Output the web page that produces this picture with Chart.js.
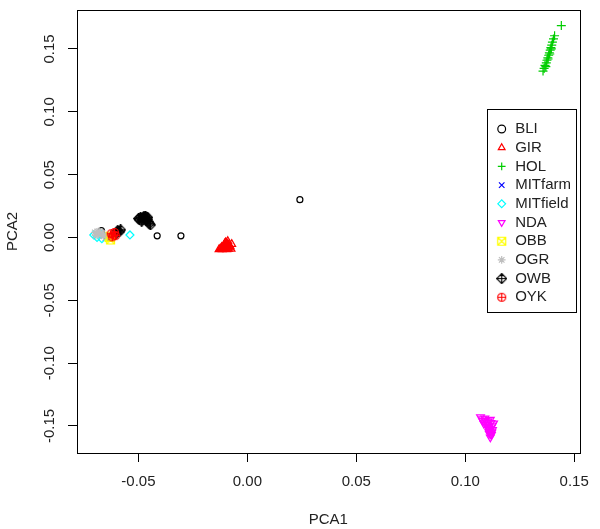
<!DOCTYPE html>
<html>
<head>
<meta charset="utf-8">
<script src="https://cdn.jsdelivr.net/npm/chart.js@4.4.1/dist/chart.umd.min.js"></script>
<style>
  body { margin: 0; background: #fff; }
  #wrap { width: 600px; height: 529px; }
</style>
</head>
<body>
<div id="wrap"><canvas id="canvas1" width="600" height="529"></canvas></div>
<script>
const canvas1 = document.getElementById('canvas1');

// groups, in legend order
const groups = ['BLI', 'GIR', 'HOL', 'MITfarm', 'MITfield', 'NDA', 'OBB', 'OGR', 'OWB', 'OYK'];

// [PCA1, PCA2] per animal
const BLI = [[0.0241, 0.0301], [-0.0414, 0.0013], [-0.0305, 0.0013], [-0.0670, 0.0055]];
const GIR = [[-0.0130, -0.0095], [-0.0120, -0.0085], [-0.0110, -0.0075], [-0.0100, -0.0060],
  [-0.0095, -0.0045], [-0.0090, -0.0030], [-0.0105, -0.0090], [-0.0090, -0.0080],
  [-0.0080, -0.0070], [-0.0085, -0.0055], [-0.0115, -0.0095], [-0.0095, -0.0095],
  [-0.0075, -0.0090], [-0.0100, -0.0040], [-0.0072, -0.0053], [-0.0125, -0.0092],
  [-0.0112, -0.0082], [-0.0102, -0.0072], [-0.0092, -0.0062], [-0.0108, -0.0065],
  [-0.0098, -0.0085], [-0.0088, -0.0090], [-0.0082, -0.0080], [-0.0118, -0.0078],
  [-0.0094, -0.0052], [-0.0104, -0.0050]];
const HOL = [[0.1357, 0.1324], [0.1362, 0.1345], [0.1366, 0.1370], [0.1372, 0.1390],
  [0.1375, 0.1410], [0.1379, 0.1430], [0.1383, 0.1450], [0.1386, 0.1470],
  [0.1390, 0.1490], [0.1393, 0.1510], [0.1397, 0.1530], [0.1400, 0.1555],
  [0.1405, 0.1580], [0.1410, 0.1605], [0.1441, 0.1686], [0.1370, 0.1360],
  [0.1380, 0.1420], [0.1388, 0.1460], [0.1395, 0.1500]];
const MITfarm = [[-0.0660, 0.0010], [-0.0652, -0.0005], [-0.0645, 0.0015], [-0.0640, -0.0015], [-0.0655, 0.0020]];
const MITfield = [[-0.0705, 0.0020], [-0.0690, 0.0000], [-0.0675, 0.0030], [-0.0668, -0.0010], [-0.0539, 0.0020]];
const NDA = [[0.1070, -0.1430], [0.1090, -0.1440], [0.1080, -0.1460], [0.1100, -0.1470],
  [0.1115, -0.1450], [0.1095, -0.1490], [0.1110, -0.1500], [0.1105, -0.1520],
  [0.1120, -0.1510], [0.1115, -0.1540], [0.1125, -0.1530], [0.1110, -0.1560],
  [0.1120, -0.1570], [0.1115, -0.1590], [0.1130, -0.1480], [0.1085, -0.1480],
  [0.1078, -0.1445], [0.1092, -0.1458], [0.1105, -0.1462], [0.1118, -0.1475],
  [0.1102, -0.1505], [0.1112, -0.1525], [0.1122, -0.1550], [0.1108, -0.1545],
  [0.1117, -0.1565], [0.1124, -0.1495]];
const OBB = [[-0.0635, 0.0000], [-0.0628, -0.0020], [-0.0632, 0.0010]];
const OGR = [[-0.0700, 0.0040], [-0.0690, 0.0030], [-0.0680, 0.0050], [-0.0672, 0.0020],
  [-0.0665, 0.0035], [-0.0695, 0.0015], [-0.0685, 0.0045], [-0.0660, 0.0010]];
const OWB = [[-0.0595, 0.0055], [-0.0588, 0.0045], [-0.0600, 0.0035], [-0.0582, 0.0060],
  [-0.0500, 0.0150], [-0.0490, 0.0160], [-0.0480, 0.0140], [-0.0470, 0.0150],
  [-0.0475, 0.0165], [-0.0460, 0.0145], [-0.0485, 0.0130], [-0.0465, 0.0135],
  [-0.0455, 0.0125], [-0.0450, 0.0110], [-0.0495, 0.0140], [-0.0478, 0.0155],
  [-0.0468, 0.0170], [-0.0458, 0.0160], [-0.0445, 0.0100]];
const OYK = [[-0.0625, 0.0030], [-0.0615, 0.0020], [-0.0620, 0.0005], [-0.0610, 0.0040], [-0.0605, 0.0015]];

const series = [BLI, GIR, HOL, MITfarm, MITfield, NDA, OBB, OGR, OWB, OYK];

const xTicks = [-0.05, 0, 0.05, 0.10, 0.15];
const yTicks = [-0.15, -0.10, -0.05, 0, 0.05, 0.10, 0.15];

// base R palette, recycled
const colors = ['#000000', '#FF0000', '#00CD00', '#0000FF', '#00FFFF', '#FF00FF', '#FFFF00', '#BEBEBE', '#000000', '#FF0000'];

// pch 7, 9, 10 have no chart.js style, so draw them on little canvases
function mark(color, draw) {
  const c = document.createElement('canvas');
  c.width = 11;
  c.height = 11;
  const g = c.getContext('2d');
  g.strokeStyle = color;
  g.lineWidth = 1.2;
  g.beginPath();
  draw(g);
  g.stroke();
  return c;
}
const squareX = mark('#FFFF00', g => {
  g.rect(1.5, 1.5, 8, 8);
  g.moveTo(1.5, 1.5); g.lineTo(9.5, 9.5);
  g.moveTo(9.5, 1.5); g.lineTo(1.5, 9.5);
});
const diamondPlus = mark('#000000', g => {
  g.moveTo(5.5, 0.5); g.lineTo(10.5, 5.5); g.lineTo(5.5, 10.5); g.lineTo(0.5, 5.5); g.closePath();
  g.moveTo(5.5, 0.5); g.lineTo(5.5, 10.5);
  g.moveTo(0.5, 5.5); g.lineTo(10.5, 5.5);
});
const circlePlus = mark('#FF0000', g => {
  g.arc(5.5, 5.5, 4, 0, Math.PI * 2);
  g.moveTo(5.5, 1.5); g.lineTo(5.5, 9.5);
  g.moveTo(1.5, 5.5); g.lineTo(9.5, 5.5);
});

const shapes = ['circle', 'triangle', 'cross', 'crossRot', 'rectRot', 'triangle', squareX, 'star', diamondPlus, circlePlus];
const radii = [3, 4.5, 4.5, 3.5, 4, 4.5, 5.5, 4, 5.5, 5.5];
const turns = [0, 0, 0, 0, 0, 180, 0, 0, 0, 0];

const font = { family: '"Liberation Sans", Arial, sans-serif', size: 15 };
const ink = '#222';

// R style frame around the plot and around the legend
const frames = {
  id: 'frames',
  afterLayout(chart) {
    const lg = chart.legend;
    lg.left = 492;
    lg.top = 117.8;
    lg.right = 577;
    lg.bottom = 330;
  },
  afterDraw(chart) {
    const ctx = chart.ctx;
    const a = chart.chartArea;
    ctx.save();
    ctx.strokeStyle = '#000';
    ctx.lineWidth = 1;
    ctx.strokeRect(Math.round(a.left) + 0.5, Math.round(a.top) + 0.5,
      Math.round(a.right - a.left), Math.round(a.bottom - a.top));
    ctx.strokeRect(487.5, 109.5, 89, 203);
    ctx.restore();
  }
};

new Chart(canvas1, {
  type: 'scatter',
  data: {
    datasets: groups.map((name, i) => ({
      label: name,
      data: series[i].map(p => ({ x: p[0], y: p[1] })),
      pointStyle: shapes[i],
      pointRadius: radii[i],
      pointRotation: turns[i],
      pointBorderColor: colors[i],
      pointBackgroundColor: 'rgba(0,0,0,0)',
      pointBorderWidth: 1.2,
      order: -i
    }))
  },
  options: {
    responsive: false,
    animation: false,
    events: [],
    layout: {
      padding: { top: 5, right: 20, bottom: 0, left: 0 }
    },
    scales: {
      x: {
        type: 'linear',
        min: -0.0782,
        max: 0.1525,
        afterBuildTicks: (scale) => { scale.ticks = xTicks.map(v => ({ value: v })); },
        afterFit: (scale) => { scale.height = 76; },
        border: { display: false },
        grid: { drawOnChartArea: false, drawTicks: true, tickLength: 9, color: '#000', lineWidth: 1 },
        ticks: {
          callback: (v) => v.toFixed(2),
          font: font,
          color: ink,
          padding: 11,
          maxRotation: 0,
          autoSkip: false
        },
        title: { display: true, text: 'PCA1', font: font, color: ink, padding: { top: 0, bottom: 0 } }
      },
      y: {
        type: 'linear',
        min: -0.1715,
        max: 0.1810,
        afterBuildTicks: (scale) => { scale.ticks = yTicks.map(v => ({ value: v })); },
        afterFit: (scale) => { scale.width = 77; },
        border: { display: false },
        grid: { drawOnChartArea: false, drawTicks: true, tickLength: 9, color: '#000', lineWidth: 1 },
        ticks: {
          callback: (v) => v.toFixed(2),
          font: font,
          color: ink,
          padding: 1,
          minRotation: 90,
          maxRotation: 90,
          crossAlign: 'center',
          autoSkip: false
        },
        title: { display: true, text: 'PCA2', font: font, color: ink, padding: { top: 4, bottom: 0 } }
      }
    },
    plugins: {
      tooltip: { enabled: false },
      legend: {
        position: 'chartArea',
        align: 'start',
        labels: {
          usePointStyle: true,
          boxWidth: 12,
          boxHeight: 5.5,
          padding: 3.7,
          font: font,
          color: ink,
          sort: (a, b) => a.datasetIndex - b.datasetIndex
        }
      }
    }
  },
  plugins: [frames]
});
</script>
</body>
</html>
